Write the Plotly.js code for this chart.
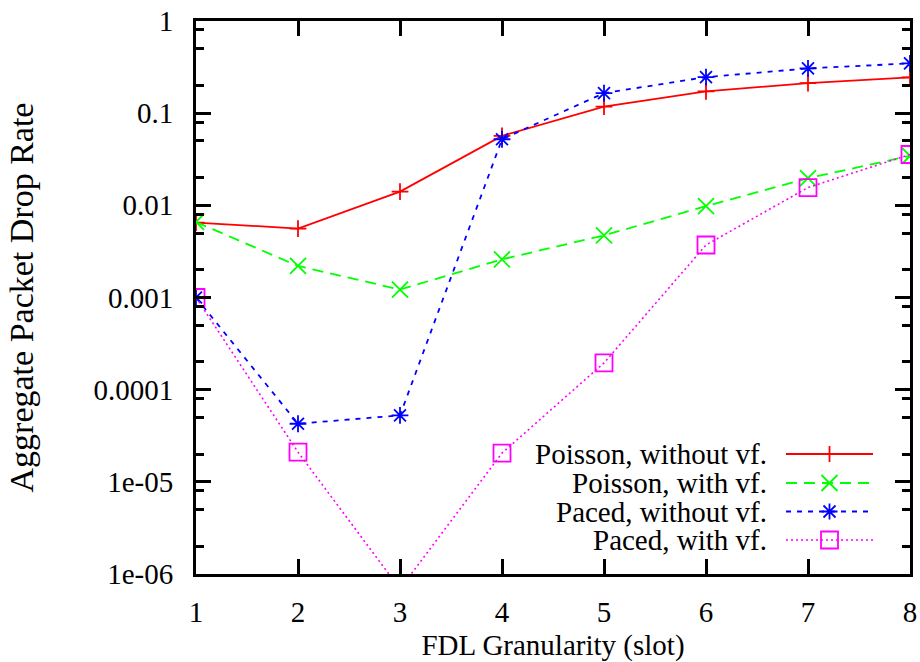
<!DOCTYPE html>
<html>
<head>
<meta charset="utf-8">
<script src="https://cdn.plot.ly/plotly-3.0.1.min.js"></script>
</head>
<body style="margin:0">
<div id="chart" style="width:920px;height:662px"></div>
<script>
// FDL granularity (slot)
const granularity = [1, 2, 3, 4, 5, 6, 7, 8];
// Aggregate packet drop rate per series
const poissonWithout = [0.0065, 0.0056, 0.0141, 0.0567, 0.118, 0.172, 0.212, 0.244];
const poissonWith    = [0.0066, 0.0022, 0.00122, 0.00259, 0.00472, 0.0098, 0.0197, 0.0344];
const pacedWithout   = [0.001, 0.0000427, 0.0000526, 0.0521, 0.165, 0.246, 0.306, 0.347];
const pacedWith      = [0.001, 0.000021, 0.00000069, 0.0000205, 0.000195, 0.00371, 0.0156, 0.0356];
const seriesNames = ["Poisson, without vf.", "Poisson, with vf.", "Paced, without vf.", "Paced, with vf."];
// Axis ticks
const yTickVals = [1e-6, 1e-5, 1e-4, 1e-3, 1e-2, 1e-1, 1];
const yTickText = ["1e-06", "1e-05", "0.0001", "0.001", "0.01", "0.1", "1"];
const yMinorVals = [2e-6,5e-6,8e-6,2e-5,5e-5,8e-5,2e-4,5e-4,8e-4,2e-3,5e-3,8e-3,2e-2,5e-2,8e-2,0.2,0.5,0.8];
const xTickVals = [1, 2, 3, 4, 5, 6, 7, 8];

var serifFamily = "Times";
var colRed = "#ff0000", colGreen = "#00ff00", colBlue = "#0000ff", colMagenta = "#ff00ff";

var styles = [
  {color: colRed, dash: "solid", symbol: "cross-thin-open", size: 12, lw: 1.8},
  {color: colGreen, dash: "11px,7px", symbol: "x-thin-open", size: 16, lw: 1.8},
  {color: colBlue, dash: "5px,6px", symbol: "asterisk-open", size: 14, lw: 1.8},
  {color: colMagenta, dash: "2px,3px", symbol: "square-open", size: 17, lw: 1.6}
];
var seriesData = [poissonWithout, poissonWith, pacedWithout, pacedWith];

var traces = seriesData.map(function (ys, i) { return {
  x: granularity, y: ys, name: seriesNames[i], mode: "lines+markers", showlegend: false,
  line: {color: styles[i].color, width: styles[i].lw, dash: styles[i].dash},
  marker: {symbol: styles[i].symbol, size: styles[i].size, color: styles[i].color,
           line: {color: styles[i].color, width: 1.8}}
}; });

// Key (gnuplot style: text on the left, sample on the right), placed in paper units
var mg = {l: 196, r: 10, t: 21, b: 88};
var plotW = 920 - mg.l - mg.r, plotH = 662 - mg.t - mg.b;
function px2x(p) { return (p - mg.l) / plotW; }
function px2y(p) { return (662 - mg.b - p) / plotH; }
var keyRowY = [454, 483, 511.5, 540];
var keyTextRight = 769, keyLineL = 786, keyLineR = 873, keyMid = 829.5;
var markerPaths = [
  "M-8,0H8M0,-8V8",
  "M-8,-8L8,8M-8,8L8,-8",
  "M-8,0H8M0,-8V8M-6,-6L6,6M-6,6L6,-6",
  "M-8.5,-8.5H8.5V8.5H-8.5Z"
];
var annotations = [], shapes = [];
seriesNames.forEach(function (nm, i) {
  annotations.push({xref: "paper", yref: "paper", x: px2x(keyTextRight), y: px2y(keyRowY[i]),
    xanchor: "right", yanchor: "middle", text: nm, showarrow: false,
    font: {family: serifFamily, size: 29, color: "#000000"}});
  shapes.push({type: "line", xref: "paper", yref: "paper",
    x0: px2x(keyLineL), x1: px2x(keyLineR), y0: px2y(keyRowY[i]), y1: px2y(keyRowY[i]),
    line: {color: styles[i].color, width: styles[i].lw, dash: styles[i].dash}});
  shapes.push({type: "path", xref: "paper", yref: "paper",
    xsizemode: "pixel", ysizemode: "pixel", xanchor: px2x(keyMid), yanchor: px2y(keyRowY[i]),
    path: markerPaths[i], fillcolor: "rgba(0,0,0,0)",
    line: {color: styles[i].color, width: 1.8}});
});

var layout = {
  width: 920, height: 662,
  margin: mg,
  paper_bgcolor: "#ffffff", plot_bgcolor: "#ffffff",
  font: {family: serifFamily, size: 29, color: "#000000"},
  showlegend: false,
  annotations: annotations,
  shapes: shapes,
  xaxis: {
    type: "linear", range: [1, 8], tickmode: "array", tickvals: xTickVals,
    showgrid: false, zeroline: false, showline: true, linecolor: "#000000", linewidth: 3,
    mirror: "ticks", ticks: "inside", ticklen: 15, tickwidth: 3, tickcolor: "#000000",
    ticklabelstandoff: 10,
    tickfont: {family: serifFamily, size: 29, color: "#000000"},
    title: {text: "FDL Granularity (slot)", font: {family: serifFamily, size: 29, color: "#000000"}, standoff: 10}
  },
  yaxis: {
    type: "log", range: [-6, 0], tickmode: "array", tickvals: yTickVals, ticktext: yTickText,
    showgrid: false, zeroline: false, showline: true, linecolor: "#000000", linewidth: 3,
    mirror: "ticks", ticks: "inside", ticklen: 15, tickwidth: 3, tickcolor: "#000000",
    ticklabelstandoff: 14,
    tickfont: {family: serifFamily, size: 29, color: "#000000"},
    minor: {tickmode: "array", tickvals: yMinorVals, ticks: "inside", ticklen: 8, tickwidth: 3, tickcolor: "#000000", showgrid: false},
    title: {text: "Aggregate Packet Drop Rate", font: {family: serifFamily, size: 34, color: "#000000"}, standoff: 50}
  }
};

Plotly.newPlot("chart", traces, layout, {displayModeBar: false});
</script>
</body>
</html>
